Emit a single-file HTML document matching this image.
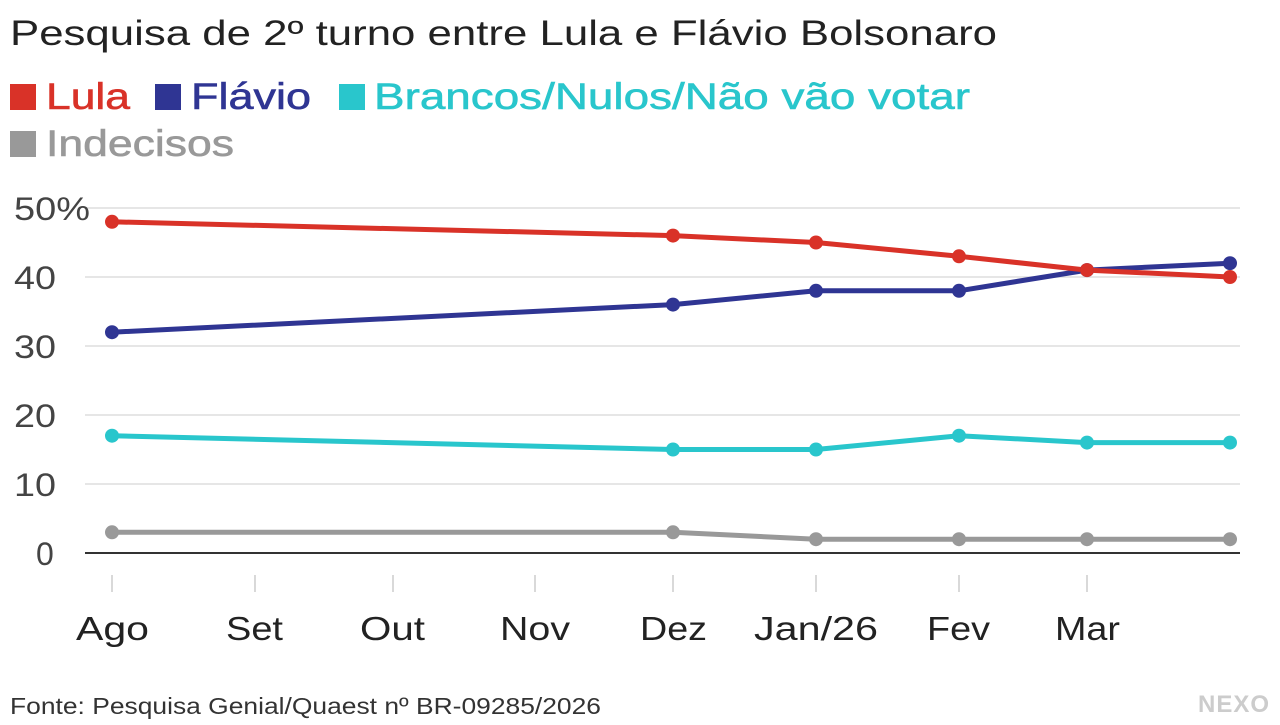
<!DOCTYPE html>
<html><head><meta charset="utf-8"><style>
body{margin:0;background:#fff;width:1280px;height:720px;overflow:hidden;font-family:"Liberation Sans",sans-serif}
</style></head><body>
<svg width="1280" height="720" xmlns="http://www.w3.org/2000/svg" font-family="Liberation Sans, sans-serif">
<text x="10" y="45" font-size="35" fill="#222" textLength="987" lengthAdjust="spacingAndGlyphs">Pesquisa de 2º turno entre Lula e Flávio Bolsonaro</text>
<g font-size="37" stroke-width="0.6">
<rect x="10" y="84" width="26" height="26" fill="#d93228"/><text x="46" y="109" fill="#d93228" stroke="#d93228" textLength="84" lengthAdjust="spacingAndGlyphs">Lula</text>
<rect x="155" y="84" width="26" height="26" fill="#2f3593"/><text x="191" y="109" fill="#2f3593" stroke="#2f3593" textLength="120" lengthAdjust="spacingAndGlyphs">Flávio</text>
<rect x="339" y="84" width="26" height="26" fill="#29c6cc"/><text x="374" y="109" fill="#29c6cc" stroke="#29c6cc" textLength="596" lengthAdjust="spacingAndGlyphs">Brancos/Nulos/Não vão votar</text>
<rect x="10" y="131" width="26" height="26" fill="#999"/><text x="46" y="156" fill="#999" stroke="#999" textLength="188" lengthAdjust="spacingAndGlyphs">Indecisos</text>
</g>
<g stroke="#ddd" stroke-width="1.5">
<line x1="85" x2="1240" y1="208" y2="208"/><line x1="85" x2="1240" y1="277" y2="277"/>
<line x1="85" x2="1240" y1="346" y2="346"/><line x1="85" x2="1240" y1="415" y2="415"/>
<line x1="85" x2="1240" y1="484" y2="484"/>
</g>
<line x1="85" x2="1240" y1="553" y2="553" stroke="#333" stroke-width="2"/>
<g font-size="32" fill="#444">
<text x="14" y="220" textLength="76" lengthAdjust="spacingAndGlyphs">50%</text><text x="14" y="289" textLength="42" lengthAdjust="spacingAndGlyphs">40</text><text x="14" y="358" textLength="42" lengthAdjust="spacingAndGlyphs">30</text>
<text x="14" y="427" textLength="42" lengthAdjust="spacingAndGlyphs">20</text><text x="14" y="496" textLength="42" lengthAdjust="spacingAndGlyphs">10</text><text x="36" y="565">0</text>
</g>
<g stroke="#ccc" stroke-width="1.5">
<line x1="112" x2="112" y1="575" y2="592"/><line x1="255" x2="255" y1="575" y2="592"/>
<line x1="393" x2="393" y1="575" y2="592"/><line x1="535" x2="535" y1="575" y2="592"/>
<line x1="673" x2="673" y1="575" y2="592"/><line x1="816" x2="816" y1="575" y2="592"/>
<line x1="959" x2="959" y1="575" y2="592"/><line x1="1087" x2="1087" y1="575" y2="592"/>
</g>
<g font-size="33" fill="#222" lengthAdjust="spacingAndGlyphs">
<text x="76" y="640" textLength="73" lengthAdjust="spacingAndGlyphs">Ago</text>
<text x="226" y="640" textLength="57" lengthAdjust="spacingAndGlyphs">Set</text>
<text x="360" y="640" textLength="65" lengthAdjust="spacingAndGlyphs">Out</text>
<text x="500" y="640" textLength="70" lengthAdjust="spacingAndGlyphs">Nov</text>
<text x="640" y="640" textLength="67" lengthAdjust="spacingAndGlyphs">Dez</text>
<text x="754" y="640" textLength="124" lengthAdjust="spacingAndGlyphs">Jan/26</text>
<text x="927" y="640" textLength="63" lengthAdjust="spacingAndGlyphs">Fev</text>
<text x="1055" y="640" textLength="65" lengthAdjust="spacingAndGlyphs">Mar</text>
</g>
<g fill="none" stroke-width="5" stroke-linejoin="round">
<polyline stroke="#999" points="112,532.3 673,532.3 816,539.2 959,539.2 1087,539.2 1230,539.2"/>
<polyline stroke="#29c6cc" points="112,435.7 673,449.5 816,449.5 959,435.7 1087,442.6 1230,442.6"/>
<polyline stroke="#2f3593" points="112,332.2 673,304.6 816,290.8 959,290.8 1087,270.1 1230,263.2"/>
<polyline stroke="#d93228" points="112,221.8 673,235.6 816,242.5 959,256.3 1087,270.1 1230,277"/>
</g>
<g fill="#999"><circle cx="112" cy="532.3" r="7"/><circle cx="673" cy="532.3" r="7"/><circle cx="816" cy="539.2" r="7"/><circle cx="959" cy="539.2" r="7"/><circle cx="1087" cy="539.2" r="7"/><circle cx="1230" cy="539.2" r="7"/></g>
<g fill="#29c6cc"><circle cx="112" cy="435.7" r="7"/><circle cx="673" cy="449.5" r="7"/><circle cx="816" cy="449.5" r="7"/><circle cx="959" cy="435.7" r="7"/><circle cx="1087" cy="442.6" r="7"/><circle cx="1230" cy="442.6" r="7"/></g>
<g fill="#2f3593"><circle cx="112" cy="332.2" r="7"/><circle cx="673" cy="304.6" r="7"/><circle cx="816" cy="290.8" r="7"/><circle cx="959" cy="290.8" r="7"/><circle cx="1087" cy="270.1" r="7"/><circle cx="1230" cy="263.2" r="7"/></g>
<g fill="#d93228"><circle cx="112" cy="221.8" r="7"/><circle cx="673" cy="235.6" r="7"/><circle cx="816" cy="242.5" r="7"/><circle cx="959" cy="256.3" r="7"/><circle cx="1087" cy="270.1" r="7"/><circle cx="1230" cy="277" r="7"/></g>
<text x="10" y="714" font-size="23" fill="#333" textLength="591" lengthAdjust="spacingAndGlyphs">Fonte: Pesquisa Genial/Quaest nº BR-09285/2026</text>
<text x="1270" y="712" font-size="24" font-weight="bold" fill="#ccc" text-anchor="end" letter-spacing="1">NEXO</text>
</svg>
</body></html>
